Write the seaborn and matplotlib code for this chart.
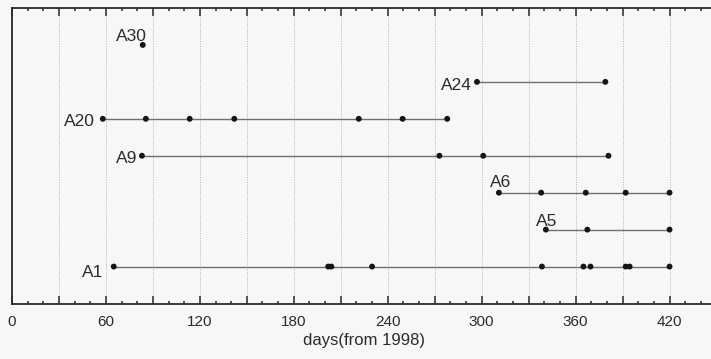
import numpy as np
import pandas as pd
import matplotlib
matplotlib.use("Agg")
import matplotlib.pyplot as plt
import seaborn as sns

# ---- data ----
names = ["A1", "A5", "A6", "A9", "A20", "A24", "A30"]
rows = [1, 2, 3, 4, 5, 6, 7]
days_A1 = [65, 202, 204, 230, 338.5, 365, 369.5, 392, 394.5, 420]
days_A5 = [341, 367.5, 420]
days_A6 = [311, 338, 366.5, 392, 420]
days_A9 = [83, 273, 301, 381]
days_A20 = [58, 85.5, 113.5, 142, 221.5, 249.5, 278]
days_A24 = [297, 379]
days_A30 = [83.5]
series = [days_A1, days_A5, days_A6, days_A9, days_A20, days_A24, days_A30]
xtick_values = list(range(0, 451, 30))
xtick_labels = [str(v) if v % 60 == 0 else "" for v in xtick_values]
xlabel = "days(from 1998)"

records = []
for n, r, ds in zip(names, rows, series):
    for d in ds:
        records.append({"name": n, "row": r, "day": d})
df = pd.DataFrame(records)

# ---- style ----
sns.set_theme(style="white")
plt.rcParams["font.family"] = ["Liberation Sans", "DejaVu Sans"]
bg = "#f7f7f7"
ink = "#2b2b2b"

# label offsets in pixels (dx, dy, ha, va) relative to first dot
label_style = {
    "A30": (4.5, 4, "right", "baseline"),
    "A24": (-5, -8, "right", "baseline"),
    "A20": (-8, -7.5, "right", "baseline"),
    "A9": (-5, -7, "right", "baseline"),
    "A6": (-9, 6, "left", "baseline"),
    "A5": (-10, 3.5, "left", "baseline"),
    "A1": (-10, -10, "right", "baseline"),
}

fig = plt.figure(figsize=(7.11, 3.59), dpi=100, facecolor=bg)
ax = fig.add_axes([12 / 711, 55.5 / 359, 704.5 / 711, 295.5 / 359])
ax.set_facecolor(bg)

sns.lineplot(data=df, x="day", y="row", units="name", estimator=None,
             sort=True, color="#707070", linewidth=1.0, ax=ax, legend=False)
sns.scatterplot(data=df, x="day", y="row", color="#151515", s=18,
                edgecolor="none", ax=ax, legend=False, zorder=3)

px2pt = 72 / 100
for n, r, ds in zip(names, rows, series):
    dx, dy, ha, va = label_style[n]
    ax.annotate(n, xy=(ds[0], r), xytext=(dx * px2pt, dy * px2pt),
                textcoords="offset points", ha=ha, va=va,
                fontsize=12.5, color=ink)

ax.set_xlim(0, 450)
ax.set_ylim(0, 8)
ax.set_yticks([])
ax.set_ylabel("")
ax.set_xticks(xtick_values)
ax.set_xticklabels(xtick_labels)
ax.set_xticks(np.arange(0, 451, 10), minor=True)
ax.tick_params(axis="x", which="both", direction="in", top=True, bottom=True,
               colors=ink, width=1.1)
ax.tick_params(axis="x", which="major", length=5.8, pad=8, labelsize=11)
ax.tick_params(axis="x", which="minor", length=2.5)
ax.set_xlabel(xlabel, fontsize=12, color=ink, labelpad=3)

ax.grid(axis="x", which="major", linestyle=(0, (1, 1.5)), color="#b0b0b0",
        linewidth=0.7)
ax.set_axisbelow(True)

for s in ["left", "bottom", "top"]:
    ax.spines[s].set_visible(True)
    ax.spines[s].set_color(ink)
    ax.spines[s].set_linewidth(1.3)
ax.spines["right"].set_visible(False)

fig.savefig("out.png", dpi=100, facecolor=bg)
